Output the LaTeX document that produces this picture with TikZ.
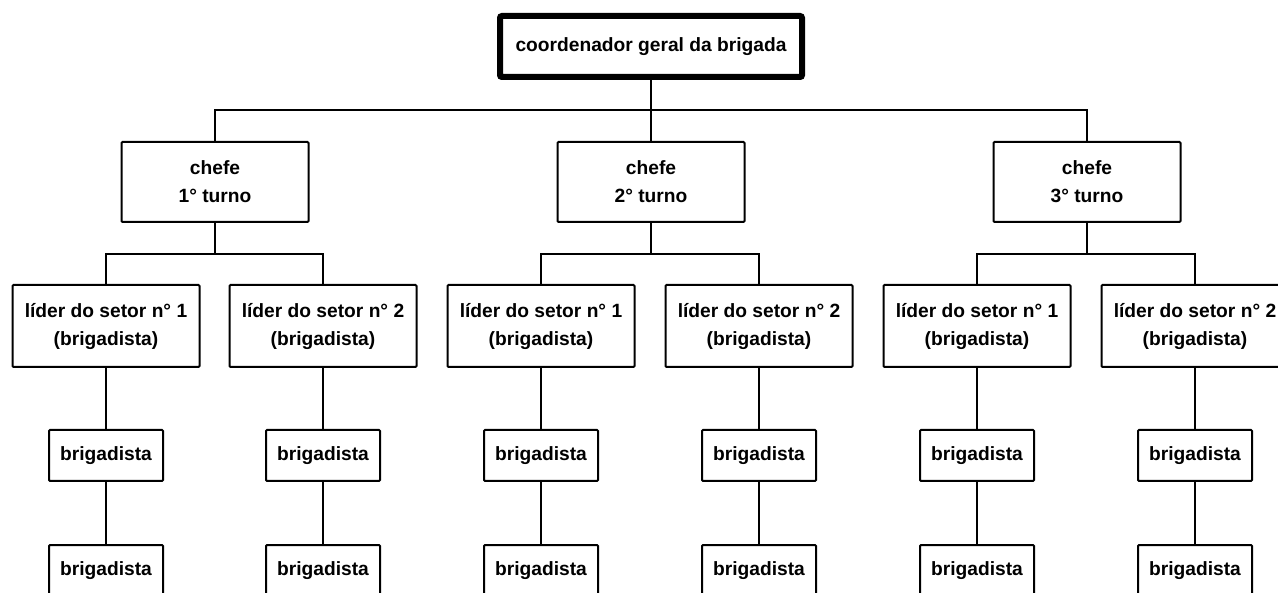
\documentclass[tikz,border=0pt]{standalone}
\usepackage{fontspec}
\setmainfont{Liberation Sans}
\begin{document}
\begin{tikzpicture}[x=1pt,y=-1pt,
  box/.style={draw, line width=2pt, rounded corners=1pt, fill=white, align=center, inner sep=0pt,
    font=\fontsize{19.2}{28}\selectfont\bfseries},
  topbox/.style={box, line width=6pt, rounded corners=2pt, minimum width=302pt, minimum height=61pt},
  chefebox/.style={box, minimum width=187pt, minimum height=80pt},
  leaderbox/.style={box, minimum width=187pt, minimum height=82pt},
  brigbox/.style={box, minimum width=114pt, minimum height=51pt},
  conn/.style={line width=2pt}]
\useasboundingbox (0,0) rectangle (1278,593);
\clip (0,0) rectangle (1278,593);

\node[topbox] (top) at (651,46.5) {coordenador geral da brigada};

\foreach \i/\x in {1/215,2/651,3/1087}{
  \node[chefebox] (c\i) at (\x,182) {chefe\\\i° turno};
}

\foreach \i/\xa/\xb in {1/106/323,2/541/759,3/977/1195}{
  \node[leaderbox] (l\i1) at (\xa,326) {líder do setor n° 1\\(brigadista)};
  \node[leaderbox] (l\i2) at (\xb,326) {líder do setor n° 2\\(brigadista)};
  \node[brigbox] (b\i1a) at (\xa,455.5) {brigadista};
  \node[brigbox] (b\i1b) at (\xa,570.5) {brigadista};
  \node[brigbox] (b\i2a) at (\xb,455.5) {brigadista};
  \node[brigbox] (b\i2b) at (\xb,570.5) {brigadista};
  \draw[conn] (c\i.south) -- ++(0,31) coordinate (m\i);
  \draw[conn] (l\i1.north) -- (l\i1.north |- m\i) -- (l\i2.north |- m\i) -- (l\i2.north);
  \draw[conn] (l\i1.south) -- (b\i1a.north);
  \draw[conn] (b\i1a.south) -- (b\i1b.north);
  \draw[conn] (l\i2.south) -- (b\i2a.north);
  \draw[conn] (b\i2a.south) -- (b\i2b.north);
}

\draw[conn] (top.south) -- (c2.north);
\coordinate (h) at (651,110);
\draw[conn] (c1.north) -- (c1.north |- h) -- (c3.north |- h) -- (c3.north);
\end{tikzpicture}
\end{document}
